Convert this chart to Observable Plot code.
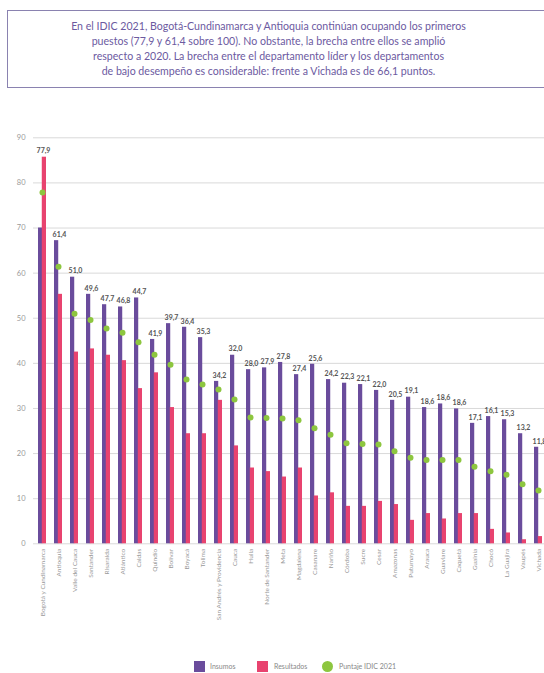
<!DOCTYPE html>
<html>
<head>
<meta charset="utf-8">
<script src="https://cdn.jsdelivr.net/npm/d3@7"></script>
<script src="https://cdn.jsdelivr.net/npm/@observablehq/plot@0.6"></script>
<style>
  html, body { margin: 0; padding: 0; background: #fff; overflow: hidden; width: 544px; height: 673px; }
  body { position: relative; font-family: Lato, "Open Sans", sans-serif; }
  #box { position: absolute; left: 7px; top: 10px; width: 600px; height: 76px; border: 1px solid #8a82b0; border-right: none; }
  #title { position: absolute; left: 7px; top: 19px; width: 523px; text-align: center; color: #6c5a9f; font-size: 10.6px; line-height: 15px; }
  #chart { position: absolute; left: 0; top: 100px; width: 560px; }
  #chart svg { max-width: none !important; }
  .leg { position: absolute; font-size: 7px; color: #888; top: 662px; line-height: 9px; }
  .sw { position: absolute; top: 661px; width: 11px; height: 11px; }
</style>
</head>
<body>
<div id="box"></div>
<div id="title">En el IDIC 2021, Bogotá-Cundinamarca y Antioquia continúan ocupando los primeros<br>puestos (77,9 y 61,4 sobre 100). No obstante, la brecha entre ellos se amplió<br>respecto a 2020. La brecha entre el departamento líder y los departamentos<br>de bajo desempeño es considerable: frente a Vichada es de 66,1 puntos.</div>
<div id="chart"></div>
<div class="sw" style="left:194px;background:#6a4c9c"></div>
<div class="leg" style="left:210px">Insumos</div>
<div class="sw" style="left:257px;background:#e8436f"></div>
<div class="leg" style="left:274px">Resultados</div>
<div class="sw" style="left:322px;background:#8dc63f;border-radius:50%"></div>
<div class="leg" style="left:339px">Puntaje IDIC 2021</div>
<script>
const departamentos = ["Bogotá y Cundinamarca","Antioquia","Valle del Cauca","Santander","Risaralda","Atlántico","Caldas","Quindío","Bolívar","Boyacá","Tolima","San Andrés y Providencia","Cauca","Huila","Norte de Santander","Meta","Magdalena","Casanare","Nariño","Córdoba","Sucre","Cesar","Amazonas","Putumayo","Arauca","Guaviare","Caquetá","Guainía","Chocó","La Guajira","Vaupés","Vichada"];
const insumos = [70.0,67.2,59.1,55.3,53.0,52.5,54.5,45.3,48.8,48.0,45.7,36.0,41.8,38.6,39.0,40.2,37.5,39.8,36.4,35.6,35.3,34.0,31.8,32.5,30.2,31.0,29.9,26.7,28.2,27.5,24.4,21.4];
const resultados = [85.7,55.3,42.5,43.2,41.8,40.6,34.4,37.9,30.2,24.4,24.4,31.8,21.7,16.8,16.0,14.8,16.8,10.6,11.3,8.3,8.3,9.4,8.7,5.2,6.7,5.5,6.7,6.7,3.2,2.4,0.9,1.6];
const puntaje = [77.9,61.4,51.0,49.6,47.7,46.8,44.7,41.9,39.7,36.4,35.3,34.2,32.0,28.0,27.9,27.8,27.4,25.6,24.2,22.3,22.1,22.0,20.5,19.1,18.6,18.6,18.6,17.1,16.1,15.3,13.2,11.8];
const yTicks = [0,10,20,30,40,50,60,70,80,90];

const data = departamentos.map((d, i) => ({dept: d, insumos: insumos[i], resultados: resultados[i], puntaje: puntaje[i]}));

const width = 560, marginLeft = 33, marginRight = 13;
const pInner = 0.53, pOuter = 0.263;
const step = (width - marginLeft - marginRight) / (departamentos.length - pInner + 2 * pOuter);
const bw = step * (1 - pInner);

const chart = Plot.plot({
  width, height: 545,
  marginLeft, marginRight, marginTop: 37.3, marginBottom: 101.7,
  style: {fontFamily: "Lato, 'Open Sans', sans-serif", background: "transparent"},
  x: {domain: departamentos, paddingInner: pInner, paddingOuter: pOuter, label: null},
  y: {domain: [0, 90], label: null},
  marks: [
    Plot.gridY(yTicks, {stroke: "#d9d9d9", strokeOpacity: 1, strokeWidth: 1}),
    Plot.axisY(yTicks, {tickSize: 0, tickPadding: 8, fontSize: 7.5, fill: "#999", label: null}),
    Plot.axisX({tickSize: 0, tickPadding: 5, tickRotate: -90, fontSize: 6.5, fill: "#999", label: null}),
    Plot.barY(data, {x: "dept", y: "insumos", fill: "#6a4c9c", insetRight: bw / 2}),
    Plot.barY(data, {x: "dept", y: "resultados", fill: "#e8436f", insetLeft: bw / 2}),
    Plot.dot(data, {x: "dept", y: "puntaje", fill: "#8dc63f", r: 3}),
    Plot.text(data, {x: "dept", y: d => Math.max(d.insumos, d.resultados), text: d => d.puntaje.toFixed(1).replace(".", ","), dy: -6, dx: 1, fontSize: 7, fontWeight: "bold", fill: "#555"})
  ]
});
chart.style.maxWidth = "none";
chart.style.width = width + "px";
chart.style.height = "545px";
document.getElementById("chart").appendChild(chart);
</script>
</body>
</html>
